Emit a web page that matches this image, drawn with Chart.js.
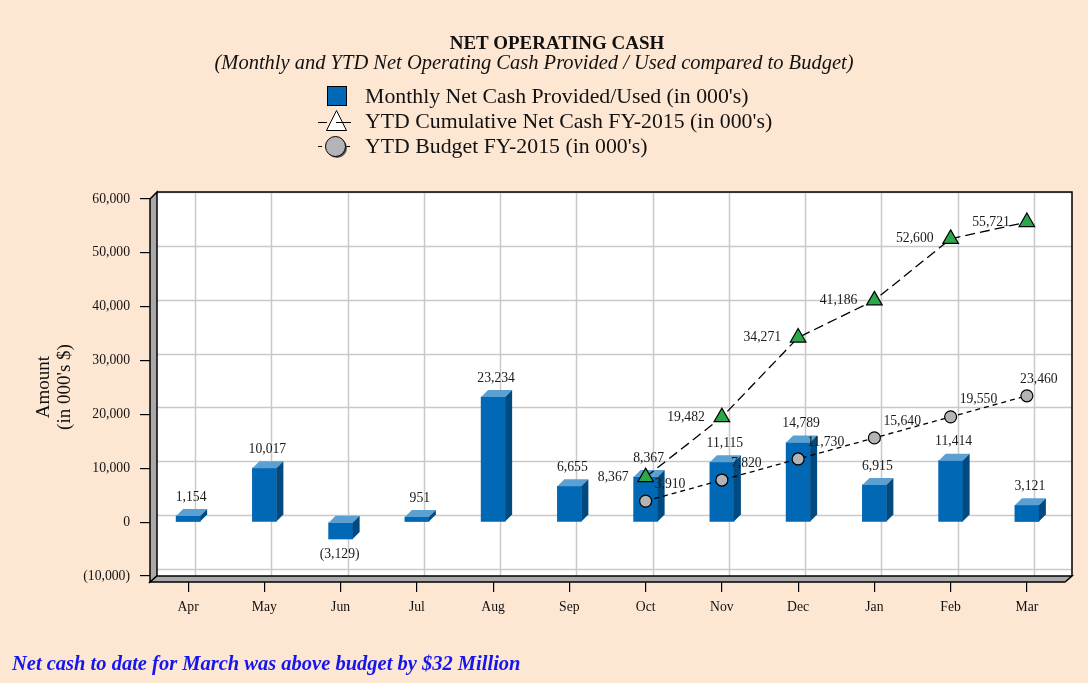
<!DOCTYPE html>
<html>
<head>
<meta charset="utf-8">
<script src="https://cdn.jsdelivr.net/npm/chart.js@4.4.0/dist/chart.umd.min.js"></script>
<style>
    html, body { margin: 0; padding: 0; background: #fde7d3; }
    #wrap { position: relative; width: 1088px; height: 683px; overflow: hidden;
            font-family: "Liberation Serif", "Times New Roman", serif; color: #111; }
    #chart { position: absolute; left: 0; top: 0; }
    .title { position: absolute; left: 557px; top: 33px; transform: translateX(-50%);
             font-size: 19px; font-weight: bold; line-height: 19px; white-space: nowrap; }
    .subtitle { position: absolute; left: 534px; top: 52px; transform: translateX(-50%);
                font-size: 20.5px; font-style: italic; line-height: 21px; white-space: nowrap; }
    .legend-text { position: absolute; left: 365px; font-size: 21.8px; line-height: 24px; white-space: nowrap; }
    #legendMarks { position: absolute; left: 0; top: 0; }
    .ytitle { position: absolute; left: -47px; top: 366px; width: 200px; text-align: center;
              font-size: 19px; line-height: 21px; transform: rotate(-90deg); }
    .footer { position: absolute; left: 12px; top: 651px; font-size: 20.5px; font-weight: bold;
              font-style: italic; color: #1515ee; line-height: 24px; white-space: nowrap; }
</style>
</head>
<body>
<div id="wrap">
    <canvas id="chart" width="1088" height="683"></canvas>
    <div class="title">NET OPERATING CASH</div>
    <div class="subtitle">(Monthly and YTD Net Operating Cash Provided / Used compared to Budget)</div>
    <svg id="legendMarks" width="400" height="170">
        <rect x="327.5" y="86.5" width="19" height="19" fill="#0068b4" stroke="#000" stroke-width="1"/>
        <line x1="318" y1="122.5" x2="351" y2="122.5" stroke="#000" stroke-width="1" stroke-dasharray="9,3"/>
        <polygon points="336.5,110.5 326.5,130.5 346.5,130.5" fill="#fff" stroke="#000" stroke-width="1"/>
        <line x1="336" y1="122.5" x2="343" y2="122.5" stroke="#000" stroke-width="1"/>
        <line x1="318" y1="146.5" x2="351" y2="146.5" stroke="#000" stroke-width="1" stroke-dasharray="4,3"/>
        <circle cx="337" cy="148" r="10" fill="#555"/>
        <circle cx="335.5" cy="146.5" r="10" fill="#b4b4b8" stroke="#000" stroke-width="1"/>
    </svg>
    <div class="legend-text" style="top:84px;">Monthly Net Cash Provided/Used (in 000's)</div>
    <div class="legend-text" style="top:109px;">YTD Cumulative Net Cash FY-2015 (in 000's)</div>
    <div class="legend-text" style="top:134px;">YTD Budget FY-2015 (in 000's)</div>
    <div class="ytitle">Amount<br>(in 000's $)</div>
    <div class="footer">Net cash to date for March was above budget by $32 Million</div>
</div>
<script>
// Chart data
const months = ['Apr', 'May', 'Jun', 'Jul', 'Aug', 'Sep', 'Oct', 'Nov', 'Dec', 'Jan', 'Feb', 'Mar'];
const monthlyNet = [1154, 10017, -3129, 951, 23234, 6655, 8367, 11115, 14789, 6915, 11414, 3121];
const ytdActual = [null, null, null, null, null, null, 8367, 19482, 34271, 41186, 52600, 55721];
const ytdBudget = [null, null, null, null, null, null, 3910, 7820, 11730, 15640, 19550, 23460];
const yMin = -10000;
const yMax = 60000;
const yStep = 10000;

const DEPTH = 7;
const labelFont = '13.7px "Liberation Serif", "Times New Roman", serif';

// Number format with parentheses for negatives
function fmt(v) {
    const s = Math.abs(v).toLocaleString('en-US');
    return v < 0 ? '(' + s + ')' : s;
}

// Back wall, side wall, floor and gridlines of the 3D box
const boxPlugin = {
    id: 'box3d',
    beforeDatasetsDraw(chart) {
        const { ctx, chartArea: a, scales: { x, y } } = chart;
        const d = DEPTH;
        const top = y.getPixelForValue(yMax);
        const bot = y.getPixelForValue(yMin);
        const left = a.left, right = a.right;
        ctx.save();
        ctx.fillStyle = '#ffffff';
        ctx.fillRect(left + d, top - d, right - left, bot - top + d);

        ctx.strokeStyle = '#c9c9c9';
        ctx.lineWidth = 1.5;
        ctx.beginPath();
        y.ticks.forEach(t => {
            const py = Math.round(y.getPixelForValue(t.value) - d) + 0.5;
            ctx.moveTo(left + d, py);
            ctx.lineTo(right + d, py);
        });
        x.ticks.forEach((t, i) => {
            const px = Math.round(x.getPixelForTick(i) + d) + 0.5;
            ctx.moveTo(px, top - d);
            ctx.lineTo(px, bot);
        });
        ctx.stroke();

        ctx.strokeStyle = '#000';
        ctx.lineWidth = 1.5;
        ctx.beginPath();
        ctx.moveTo(left + d, top - d);
        ctx.lineTo(right + d, top - d);
        ctx.lineTo(right + d, bot);
        ctx.stroke();

        ctx.fillStyle = '#a9a9a9';
        ctx.beginPath();
        ctx.moveTo(left, top);
        ctx.lineTo(left + d, top - d);
        ctx.lineTo(left + d, bot);
        ctx.lineTo(left, bot + 6);
        ctx.closePath();
        ctx.fill();
        ctx.stroke();

        ctx.beginPath();
        ctx.moveTo(left, bot + 6);
        ctx.lineTo(left + d, bot);
        ctx.lineTo(right + d, bot);
        ctx.lineTo(right, bot + 6);
        ctx.closePath();
        ctx.fill();
        ctx.stroke();
        ctx.restore();
    },
    // top and side faces of the bars
    afterDatasetDraw(chart, args) {
        if (args.meta.type !== 'bar') return;
        const ctx = chart.ctx;
        const d = DEPTH;
        ctx.save();
        args.meta.data.forEach(bar => {
            const p = bar.getProps(['x', 'y', 'base', 'width'], true);
            const l = p.x - p.width / 2, r = p.x + p.width / 2;
            const t = Math.min(p.y, p.base), b = Math.max(p.y, p.base);
            ctx.fillStyle = '#5ba0d3';
            ctx.beginPath();
            ctx.moveTo(l, t);
            ctx.lineTo(l + d, t - d);
            ctx.lineTo(r + d, t - d);
            ctx.lineTo(r, t);
            ctx.closePath();
            ctx.fill();
            ctx.fillStyle = '#004a80';
            ctx.beginPath();
            ctx.moveTo(r, t);
            ctx.lineTo(r + d, t - d);
            ctx.lineTo(r + d, b - d);
            ctx.lineTo(r, b);
            ctx.closePath();
            ctx.fill();
        });
        ctx.restore();
    }
};

// Value labels for bars and lines
const labelPlugin = {
    id: 'valueLabels',
    afterDatasetsDraw(chart) {
        const ctx = chart.ctx;
        ctx.save();
        ctx.font = labelFont;
        ctx.fillStyle = '#1a1a1a';
        ctx.textBaseline = 'middle';
        chart.data.datasets.forEach((ds, di) => {
            const meta = chart.getDatasetMeta(di);
            meta.data.forEach((el, i) => {
                const v = ds.data[i];
                if (v === null || v === undefined) return;
                const text = fmt(v);
                if (meta.type === 'bar') {
                    const p = el.getProps(['x', 'y', 'base'], true);
                    ctx.textAlign = 'center';
                    if (v >= 0) ctx.fillText(text, p.x + 3, p.y - 19);
                    else ctx.fillText(text, p.x - 1, p.y + 15);
                } else if (ds.labelSide === 'left') {
                    ctx.textAlign = 'right';
                    ctx.fillText(text, el.x - 17, el.y);
                } else {
                    if (i === ds.data.length - 1) {
                        ctx.textAlign = 'center';
                        ctx.fillText(text, el.x + 12, el.y - 16);
                    } else {
                        ctx.textAlign = 'left';
                        ctx.fillText(text, el.x + 9, el.y - 17);
                    }
                }
            });
        });
        ctx.restore();
    }
};

const ctx = document.getElementById('chart').getContext('2d');
const chart = new Chart(ctx, {
    data: {
        labels: months,
        datasets: [{
            type: 'bar',
            label: "Monthly Net Cash Provided/Used (in 000's)",
            data: monthlyNet,
            backgroundColor: '#0068b4',
            borderWidth: 0,
            barThickness: 24,
            order: 3
        }, {
            type: 'line',
            label: "YTD Cumulative Net Cash FY-2015 (in 000's)",
            data: ytdActual,
            borderColor: '#000',
            borderWidth: 1.3,
            borderDash: [10, 5],
            pointStyle: 'triangle',
            pointRadius: 9,
            pointBackgroundColor: '#2aa84a',
            pointBorderColor: '#000',
            pointBorderWidth: 1.2,
            labelSide: 'left',
            order: 1
        }, {
            type: 'line',
            label: "YTD Budget FY-2015 (in 000's)",
            data: ytdBudget,
            borderColor: '#000',
            borderWidth: 1.3,
            borderDash: [5, 4],
            pointStyle: 'circle',
            pointRadius: 6,
            pointBackgroundColor: '#b4b4b8',
            pointBorderColor: '#000',
            pointBorderWidth: 1.2,
            labelSide: 'right',
            order: 2
        }]
    },
    options: {
        responsive: false,
        animation: false,
        devicePixelRatio: 1,
        layout: { padding: { left: 50, top: 199, right: 23, bottom: 57 } },
        plugins: {
            legend: { display: false },
            tooltip: { enabled: false }
        },
        scales: {
            x: {
                offset: true,
                grid: { display: true, drawOnChartArea: false, drawTicks: true, tickLength: 16,
                        color: '#000', lineWidth: 1.2, offset: false },
                border: { display: false },
                ticks: { color: '#111', padding: 7, font: { family: '"Liberation Serif", serif', size: 13.7 } },
                afterFit(scale) { scale.height = 50; }
            },
            y: {
                min: yMin,
                max: yMax,
                grid: { display: true, drawOnChartArea: false, drawTicks: true, tickLength: 10,
                        color: '#000', lineWidth: 1.2 },
                border: { display: false },
                ticks: { stepSize: yStep, color: '#111', padding: 10, callback: v => fmt(v),
                         font: { family: '"Liberation Serif", serif', size: 13.7 } },
                afterFit(scale) { scale.width = 100; }
            }
        }
    },
    plugins: [boxPlugin, labelPlugin]
});
</script>
</body>
</html>
